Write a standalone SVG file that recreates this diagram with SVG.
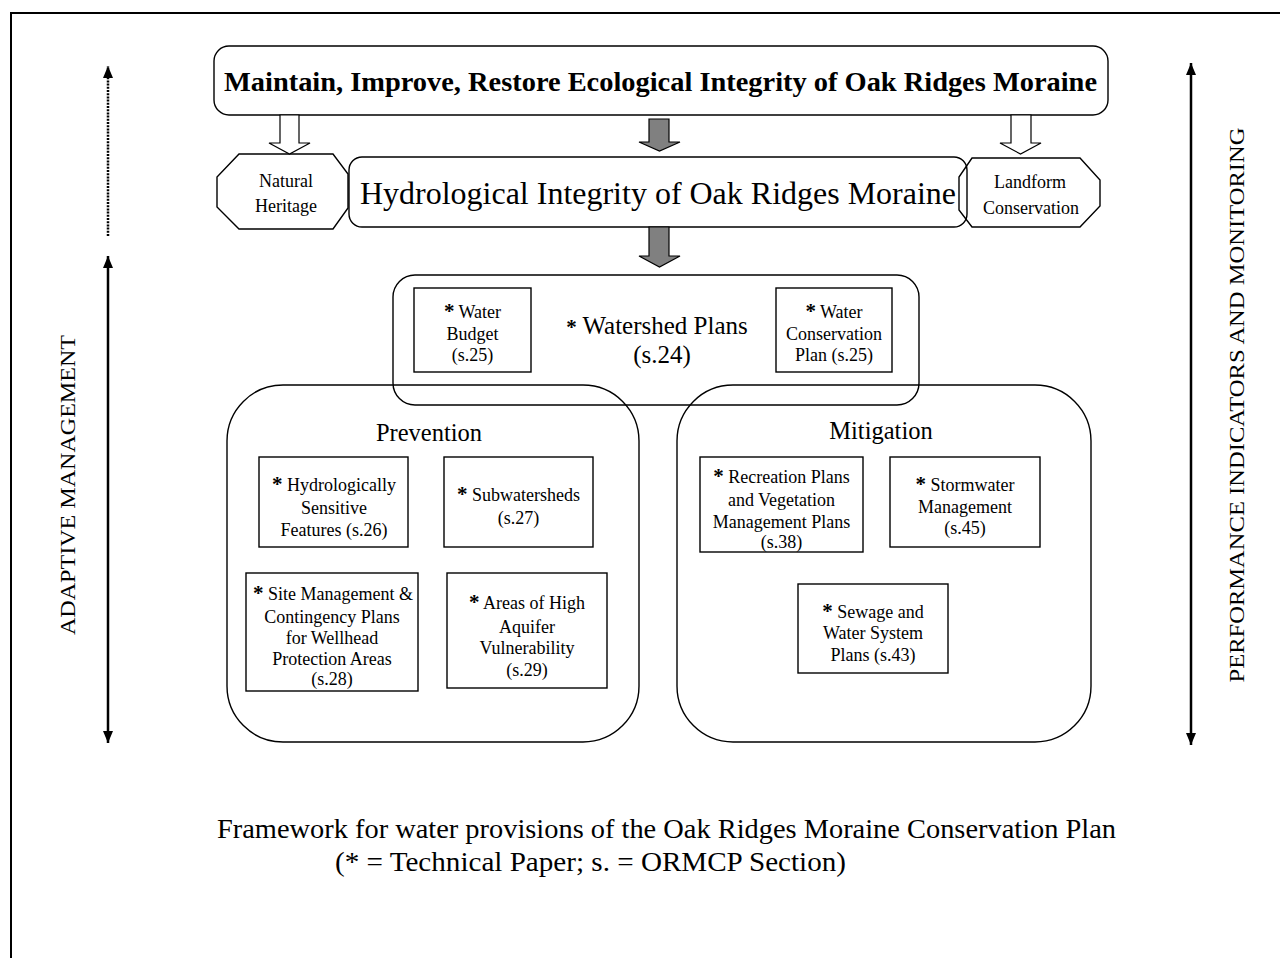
<svg xmlns="http://www.w3.org/2000/svg" width="1280" height="958" viewBox="0 0 1280 958" font-family="'Liberation Serif', 'Times New Roman', Times, serif">
  <defs>
    <marker id="head" viewBox="0 0 12 10" refX="12" refY="5" markerWidth="12" markerHeight="10" markerUnits="userSpaceOnUse" orient="auto-start-reverse">
      <path d="M0,0 L12,5 L0,10 Z" fill="#000"/>
    </marker>
    <style>
      .box { fill: none; stroke: #000; stroke-width: 1.4; }
      .lbl { font-size: 18px; text-anchor: middle; }
      .ast { font-weight: bold; font-size: 21px; }
      .hollow { fill: #fff; stroke: #000; stroke-width: 1.2; }
      .solid { fill: #808080; stroke: #000; stroke-width: 1.2; }
      .axis { stroke: #000; stroke-width: 2.5; fill: none; }
    </style>
  </defs>
  <rect width="1280" height="958" fill="#fff"/>
  <!-- page frame -->
  <path d="M11,958 V13 H1280" fill="none" stroke="#000" stroke-width="2"/>

  <g id="goal">
    <rect class="box" x="214" y="46" width="894" height="69" rx="15"/>
    <text x="660.5" y="91" font-size="28" font-weight="bold" text-anchor="middle" textLength="873" lengthAdjust="spacingAndGlyphs">Maintain, Improve, Restore Ecological Integrity of Oak Ridges Moraine</text>
  </g>

  <g id="natural-heritage">
    <polygon class="box" points="239,154 333,154 348,174 348,208 333,229 239,229 217,207 217,177"/>
    <text class="lbl" x="286" y="187" font-size="21">Natural</text>
    <text class="lbl" x="286" y="212" font-size="21">Heritage</text>
  </g>

  <g id="hydrological">
    <rect class="box" x="349" y="157" width="618" height="70" rx="13"/>
    <text x="658" y="204" font-size="32" text-anchor="middle" textLength="596" lengthAdjust="spacingAndGlyphs">Hydrological Integrity of Oak Ridges Moraine</text>
  </g>

  <g id="landform-conservation">
    <polygon class="box" points="972,158 1080,158 1100,180 1100,206 1080,227 972,227 959,210 959,177"/>
    <text class="lbl" x="1030" y="188" font-size="20.5">Landform</text>
    <text class="lbl" x="1031" y="214" font-size="20.5">Conservation</text>
  </g>

  <g id="watershed-plans">
    <rect class="box" x="393" y="275" width="526" height="130" rx="22"/>
    <text x="657" y="334" font-size="25" text-anchor="middle"><tspan class="ast" font-size="25">*</tspan> Watershed Plans</text>
    <text x="662" y="363" font-size="25" text-anchor="middle">(s.24)</text>
  </g>

  <g id="water-budget">
    <rect class="box" x="414" y="288" width="117" height="84"/>
    <text class="lbl" x="472.5" y="318" font-size="17.5"><tspan class="ast">*</tspan> Water</text>
    <text class="lbl" x="472.5" y="340" font-size="17.5">Budget</text>
    <text class="lbl" x="472.5" y="361" font-size="17.5">(s.25)</text>
  </g>

  <g id="water-conservation">
    <rect class="box" x="776" y="288" width="116" height="84"/>
    <text class="lbl" x="834" y="318" font-size="17.5"><tspan class="ast">*</tspan> Water</text>
    <text class="lbl" x="834" y="340" font-size="17.5">Conservation</text>
    <text class="lbl" x="834" y="361" font-size="17.5">Plan (s.25)</text>
  </g>

  <g id="prevention">
    <rect class="box" x="227" y="385" width="412" height="357" rx="56"/>
    <text x="429" y="441" font-size="24.5" text-anchor="middle">Prevention</text>
  </g>

  <g id="hydro-features">
    <rect class="box" x="259" y="457" width="149" height="90"/>
    <text class="lbl" x="334" y="491"><tspan class="ast">*</tspan> Hydrologically</text>
    <text class="lbl" x="334" y="514">Sensitive</text>
    <text class="lbl" x="334" y="536">Features (s.26)</text>
  </g>

  <g id="subwatersheds">
    <rect class="box" x="444" y="457" width="149" height="90"/>
    <text class="lbl" x="518.5" y="501"><tspan class="ast">*</tspan> Subwatersheds</text>
    <text class="lbl" x="518.5" y="524">(s.27)</text>
  </g>

  <g id="wellhead">
    <rect class="box" x="246" y="573" width="172" height="118"/>
    <text class="lbl" x="333" y="600"><tspan class="ast">*</tspan> Site Management &amp;</text>
    <text class="lbl" x="332" y="623">Contingency Plans</text>
    <text class="lbl" x="332" y="644">for Wellhead</text>
    <text class="lbl" x="332" y="665">Protection Areas</text>
    <text class="lbl" x="332" y="685">(s.28)</text>
  </g>

  <g id="aquifer">
    <rect class="box" x="447" y="573" width="160" height="115"/>
    <text class="lbl" x="527" y="609"><tspan class="ast">*</tspan> Areas of High</text>
    <text class="lbl" x="527" y="633">Aquifer</text>
    <text class="lbl" x="527" y="654">Vulnerability</text>
    <text class="lbl" x="527" y="676">(s.29)</text>
  </g>

  <g id="mitigation">
    <rect class="box" x="677" y="385" width="414" height="357" rx="56"/>
    <text x="881" y="439" font-size="24.5" text-anchor="middle">Mitigation</text>
  </g>

  <g id="recreation">
    <rect class="box" x="700" y="457" width="163" height="95"/>
    <text class="lbl" x="781.5" y="483"><tspan class="ast">*</tspan> Recreation Plans</text>
    <text class="lbl" x="781.5" y="506">and Vegetation</text>
    <text class="lbl" x="781.5" y="528">Management Plans</text>
    <text class="lbl" x="781.5" y="548">(s.38)</text>
  </g>

  <g id="stormwater">
    <rect class="box" x="890" y="457" width="150" height="90"/>
    <text class="lbl" x="965" y="491"><tspan class="ast">*</tspan> Stormwater</text>
    <text class="lbl" x="965" y="513">Management</text>
    <text class="lbl" x="965" y="534">(s.45)</text>
  </g>

  <g id="sewage">
    <rect class="box" x="798" y="584" width="150" height="89"/>
    <text class="lbl" x="873" y="618"><tspan class="ast">*</tspan> Sewage and</text>
    <text class="lbl" x="873" y="639">Water System</text>
    <text class="lbl" x="873" y="661">Plans (s.43)</text>
  </g>

  <g id="connectors">
    <path class="hollow" d="M280,115 V143 H269 L289.5,154 L310,143 H299 V115 Z"/>
    <path class="solid" d="M649,119 V142 H639 L659.5,151 L680,142 H669 V119 Z"/>
    <path class="hollow" d="M1011,115 V143 H1000 L1020.5,154 L1041,143 H1031 V115 Z"/>
    <path class="solid" d="M649,227 V256 H639 L659.5,267 L680,256 H669 V227 Z"/>
    <line class="axis" x1="108" y1="236" x2="108" y2="66" stroke-dasharray="2 1.2" marker-end="url(#head)"/>
    <line class="axis" x1="108" y1="256" x2="108" y2="743" marker-start="url(#head)" marker-end="url(#head)"/>
    <line class="axis" x1="1191" y1="63" x2="1191" y2="745" marker-start="url(#head)" marker-end="url(#head)"/>
  </g>

  <g id="side-labels">
    <text transform="translate(75,485) rotate(-90)" font-size="21" text-anchor="middle" textLength="300" lengthAdjust="spacingAndGlyphs">ADAPTIVE MANAGEMENT</text>
    <text transform="translate(1244,405) rotate(-90)" font-size="22" text-anchor="middle" textLength="555" lengthAdjust="spacingAndGlyphs">PERFORMANCE INDICATORS AND MONITORING</text>
  </g>

  <g id="caption">
    <text x="666.5" y="838" font-size="27" text-anchor="middle" textLength="899" lengthAdjust="spacingAndGlyphs">Framework for water provisions of the Oak Ridges Moraine Conservation Plan</text>
    <text x="590.5" y="871" font-size="27" text-anchor="middle" textLength="511" lengthAdjust="spacingAndGlyphs">(* = Technical Paper;  s. = ORMCP Section)</text>
  </g>
</svg>
